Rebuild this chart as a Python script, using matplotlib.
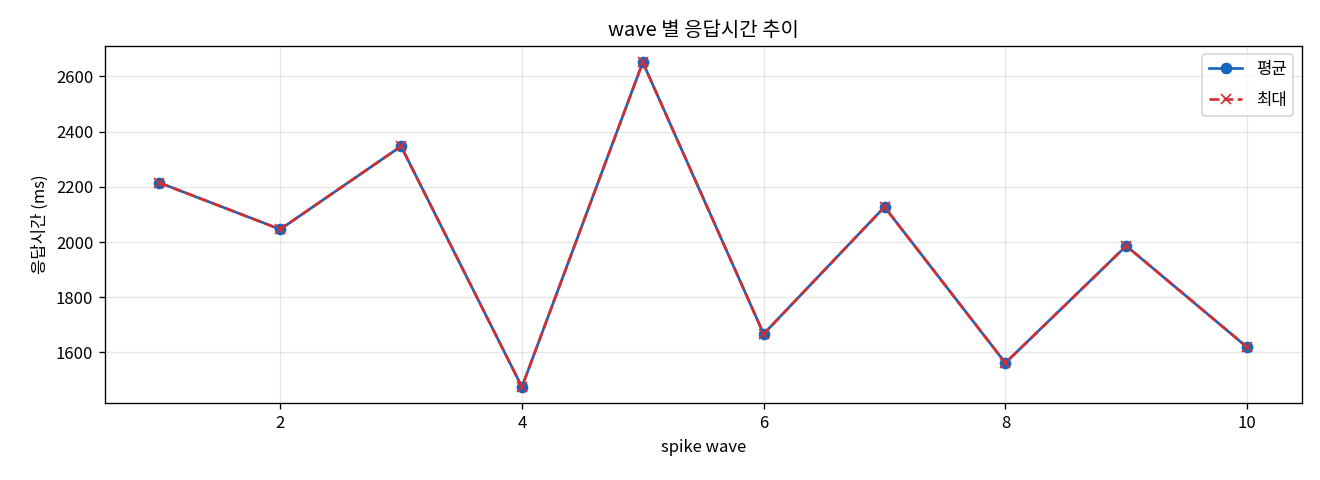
import matplotlib
matplotlib.use("Agg")
import matplotlib.pyplot as plt

plt.rcParams['font.family'] = ['Noto Sans CJK KR', 'DejaVu Sans']
plt.rcParams['axes.unicode_minus'] = False

waves = [1, 2, 3, 4, 5, 6, 7, 8, 9, 10]
mean_ms = [2215, 2046, 2347, 1475, 2651, 1667, 2127, 1562, 1986, 1619]
max_ms = [2215, 2046, 2347, 1475, 2651, 1667, 2127, 1562, 1986, 1619]

fig, ax = plt.subplots(figsize=(11, 4), dpi=120)
ax.plot(waves, mean_ms, marker='o', color='#1565c0', linewidth=1.6, markersize=6, label='평균')
ax.plot(waves, max_ms, marker='x', linestyle='--', color='#d32f2f', linewidth=1.6, markersize=6, label='최대')
ax.set_title('wave 별 응답시간 추이', fontsize=12)
ax.set_xlabel('spike wave')
ax.set_ylabel('응답시간 (ms)')
ax.grid(True, alpha=0.3)
ax.legend(loc='upper right', labelspacing=0.85)
fig.subplots_adjust(left=0.0795, right=0.986, top=0.904, bottom=0.16)
fig.savefig('out.png')
